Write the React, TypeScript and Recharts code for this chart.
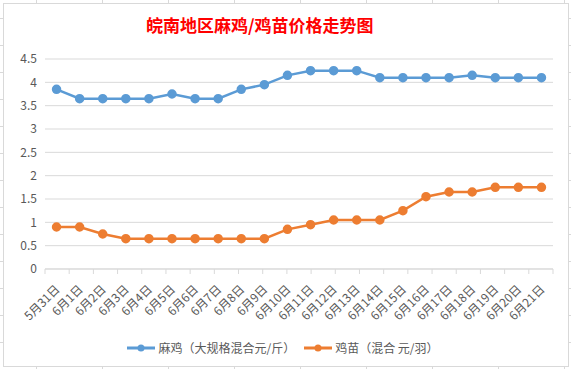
import { LineChart, Line, XAxis, YAxis, CartesianGrid, Legend } from 'recharts';

const days = [
  '5月31日', '6月1日', '6月2日', '6月3日', '6月4日', '6月5日', '6月6日', '6月7日',
  '6月8日', '6月9日', '6月10日', '6月11日', '6月12日', '6月13日', '6月14日', '6月15日',
  '6月16日', '6月17日', '6月18日', '6月19日', '6月20日', '6月21日',
];
const maJi = [
  3.85, 3.65, 3.65, 3.65, 3.65, 3.75, 3.65, 3.65, 3.85, 3.95, 4.15,
  4.25, 4.25, 4.25, 4.1, 4.1, 4.1, 4.1, 4.15, 4.1, 4.1, 4.1,
];
const jiMiao = [
  0.9, 0.9, 0.75, 0.65, 0.65, 0.65, 0.65, 0.65, 0.65, 0.65, 0.85,
  0.95, 1.05, 1.05, 1.05, 1.25, 1.55, 1.65, 1.65, 1.75, 1.75, 1.75,
];
const yTicks = [0, 0.5, 1, 1.5, 2, 2.5, 3, 3.5, 4, 4.5];

const seriesNames = ['麻鸡（大规格混合元/斤）', '鸡苗（混合 元/羽）'];
const colors = ['#5b9bd5', '#ed7d31'];

const data = days.map((day, i) => ({ day, maJi: maJi[i], jiMiao: jiMiao[i] }));
const boundaryTicks = days.map((_, i) => i).concat(days.length);

const font = '"Noto Sans CJK SC", "Microsoft YaHei", sans-serif';

function XTick(props: any) {
  const { x, y, payload } = props;
  const ax = x + 4;
  const ay = y + 12;
  return (
    <text
      x={ax}
      y={ay}
      transform={`rotate(-45, ${ax}, ${ay})`}
      textAnchor="end"
      fontSize={12}
      fill="#595959"
      fontFamily={font}
    >
      {payload.value}
    </text>
  );
}

function LegendContent() {
  return (
    <div style={{ display: 'flex', justifyContent: 'center', gap: 8, fontFamily: font, fontSize: 12, color: '#595959' }}>
      {seriesNames.map((name, i) => (
        <div key={name} style={{ display: 'flex', alignItems: 'center' }}>
          <svg width={30} height={12} style={{ marginRight: 2 }}>
            <line x1={1} y1={6} x2={29} y2={6} stroke={colors[i]} strokeWidth={3} />
            <circle cx={15} cy={6} r={3.5} fill={colors[i]} />
          </svg>
          <span>{name}</span>
        </div>
      ))}
    </div>
  );
}

export default function App() {
  return (
    <div
      style={{
        position: 'fixed',
        left: 0,
        top: 0,
        width: 571,
        height: 369,
        background: '#fff',
        backgroundImage:
          'repeating-linear-gradient(90deg, transparent 0 36px, #d9d9d9 36px 37px, transparent 37px 66px), repeating-linear-gradient(0deg, transparent 0 26px, #d9d9d9 26px 27px)',
      }}
    >
      <div
        style={{
          position: 'absolute',
          left: 3,
          top: 3,
          width: 564,
          height: 362,
          background: '#fff',
          border: '1px solid #d9d9d9',
        }}
      >
        <div
          style={{
            position: 'absolute',
            top: 8,
            left: 142,
            whiteSpace: 'nowrap',
            color: '#ff0000',
            fontFamily: font,
            fontSize: 17,
            fontWeight: 'bold',
          }}
        >
          皖南地区麻鸡/鸡苗价格走势图
        </div>
        <LineChart
          width={564}
          height={362}
          data={data}
          margin={{ top: 55, right: 15, left: 8, bottom: 10 }}
        >
          <CartesianGrid vertical={false} stroke="#d9d9d9" />
          <XAxis
            xAxisId="b"
            type="number"
            domain={[0, days.length]}
            ticks={boundaryTicks}
            tickFormatter={() => ''}
            height={1}
            stroke="#d9d9d9"
            tickSize={5}
          />
          <XAxis
            xAxisId="c"
            dataKey="day"
            scale="band"
            interval={0}
            axisLine={false}
            tickLine={false}
            height={69}
            tick={<XTick />}
          />
          <YAxis
            domain={[0, 4.5]}
            ticks={yTicks}
            axisLine={false}
            tickLine={false}
            width={33}
            tick={{ fontSize: 12, fill: '#595959', fontFamily: font }}
          />
          <Legend verticalAlign="bottom" content={<LegendContent />} />
          <Line
            xAxisId="c"
            dataKey="maJi"
            name={seriesNames[0]}
            stroke={colors[0]}
            strokeWidth={2.5}
            dot={{ r: 3.5, fill: colors[0], stroke: colors[0] }}
            isAnimationActive={false}
          />
          <Line
            xAxisId="c"
            dataKey="jiMiao"
            name={seriesNames[1]}
            stroke={colors[1]}
            strokeWidth={2.5}
            dot={{ r: 3.5, fill: colors[1], stroke: colors[1] }}
            isAnimationActive={false}
          />
        </LineChart>
      </div>
    </div>
  );
}
